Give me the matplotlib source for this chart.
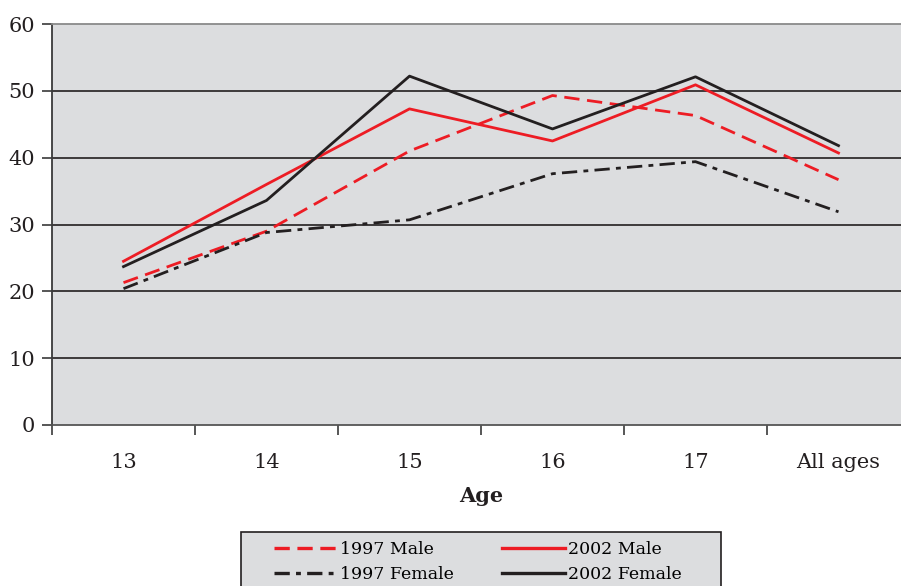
import numpy as np
import matplotlib.pyplot as plt
from matplotlib.patches import Rectangle

plt.rcParams['font.family'] = 'DejaVu Serif'
plt.rcParams['lines.scale_dashes'] = False

ages = ['13', '14', '15', '16', '17', 'All ages']
male_1997 = [21.3, 29.0, 41.0, 49.3, 46.3, 36.7]
male_2002 = [24.5, 36.0, 47.3, 42.5, 50.9, 40.7]
female_1997 = [20.4, 28.8, 30.7, 37.6, 39.4, 31.9]
female_2002 = [23.7, 33.6, 52.2, 44.3, 52.1, 41.8]

red = '#ed1c24'
blk = '#231f20'
W, H = 901, 586

fig = plt.figure(figsize=(9.01, 5.86), dpi=100)
ax = fig.add_axes([52 / W, 1 - 425 / H, 858 / W, 401 / H])
ax.set_facecolor('#dcdddf')

x = np.arange(len(ages))
l1, = ax.plot(x, male_1997, color=red, lw=2.0, dashes=(11, 5.5), label='1997 Male')
l2, = ax.plot(x, male_2002, color=red, lw=2.0, label='2002 Male')
l3, = ax.plot(x, female_1997, color=blk, lw=2.0, dashes=(11, 4.5, 3.5, 4.5), label='1997 Female')
l4, = ax.plot(x, female_2002, color=blk, lw=2.0, label='2002 Female')

ax.set_xlim(-0.5, len(ages) - 0.5)
ax.set_ylim(0, 60)
ax.set_yticks(range(0, 61, 10))
for v in range(10, 60, 10):
    ax.axhline(v, color='#231f20', lw=1.2, zorder=1)

ax.set_xticks(x)
ax.set_xticklabels(ages)
ax.set_xticks(np.arange(-0.5, len(ages)), minor=True)
ax.tick_params(axis='x', which='major', length=0, pad=20, labelsize=15)
ax.tick_params(axis='x', which='minor', length=7, width=1.2, color='#3a3a3a')
ax.tick_params(axis='y', length=7, width=1.2, color='#3a3a3a', labelsize=15, pad=5)
for lab in ax.get_xticklabels() + ax.get_yticklabels():
    lab.set_color('#231f20')

ax.spines['left'].set_color('#3a3a3a')
ax.spines['left'].set_linewidth(1.3)
ax.spines['bottom'].set_color('#555555')
ax.spines['bottom'].set_linewidth(1.3)
ax.spines['top'].set_color('#8a8a8a')
ax.spines['top'].set_linewidth(1.3)
ax.spines['right'].set_visible(False)

ax.set_xlabel('Age', fontsize=15, fontweight='bold', labelpad=10, color='#231f20')

# legend box drawn separately so its padding matches the original
fig.patches.append(Rectangle((241 / W, 1 - 592 / H), 480 / W, 60 / H,
                             transform=fig.transFigure, facecolor='#dcdddf',
                             edgecolor='#231f20', lw=1.2, zorder=0))

leg = fig.legend([l1, l3, l2, l4], ['1997 Male', '1997 Female', '2002 Male', '2002 Female'],
                 ncol=2, loc='upper left', bbox_to_anchor=(274 / W, 1 - 541 / H),
                 fontsize=12.5, frameon=False, handlelength=3.6,
                 handletextpad=0.2, columnspacing=2.8, borderpad=0,
                 labelspacing=0.45, borderaxespad=0)
for h in leg.get_lines():
    h.set_linewidth(2.4)

fig.savefig('out.png', dpi=100)
